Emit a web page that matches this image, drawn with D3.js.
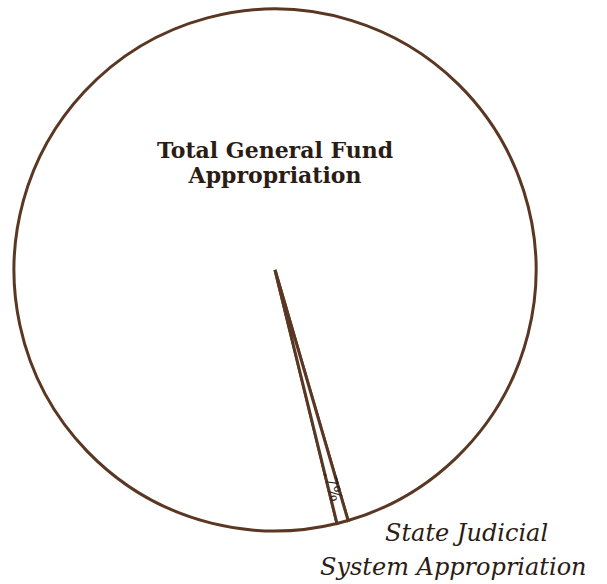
<!DOCTYPE html>
<html>
<head>
<meta charset="utf-8">
<script src="https://cdn.jsdelivr.net/npm/d3@7"></script>
<style>
  html, body { margin: 0; padding: 0; background: #ffffff; }
  svg { display: block; }
</style>
</head>
<body>
<svg id="chart" width="607" height="584"></svg>
<script>
// Share of the general fund, in percent
const categories = ["Total General Fund Appropriation", "State Judicial System Appropriation"];
const shares = [99.3, 0.7];
const shareLabels = ["", ".7%"];

// Text blocks
const titleLines = ["Total General Fund", "Appropriation"];
const calloutLines = ["State Judicial", "System Appropriation"];

const width = 607, height = 584;
const cx = 275, cy = 270, radius = 261;
const ink = "#5a3722";
const textInk = "#2b1c14";

const svg = d3.select("#chart");
const g = svg.append("g").attr("transform", `translate(${cx},${cy})`);

// Orient the pie so the small slice points down and slightly to the right
const sliceMid = 165 * Math.PI / 180;
const total = d3.sum(shares);
const start = sliceMid - 2 * Math.PI * (total - shares[1] / 2) / total;

const pie = d3.pie()
  .sort(null)
  .value(d => d)
  .startAngle(start)
  .endAngle(start + 2 * Math.PI);

const arcs = pie(shares);
const arc = d3.arc().innerRadius(0).outerRadius(radius);

g.selectAll("path.slice")
  .data(arcs)
  .join("path")
  .attr("class", "slice")
  .attr("d", arc)
  .attr("fill", "#ffffff")
  .attr("stroke", ink)
  .attr("stroke-width", 3)
  .attr("stroke-linejoin", "miter");

// Percentage label running along the small slice
const labelArc = d3.arc().innerRadius(224).outerRadius(224);
arcs.forEach((a, i) => {
  if (!shareLabels[i]) return;
  const [lx, ly] = labelArc.centroid(a);
  const mid = (a.startAngle + a.endAngle) / 2 * 180 / Math.PI;
  g.append("text")
    .attr("transform", `translate(${lx},${ly}) rotate(${mid - 90})`)
    .attr("text-anchor", "middle")
    .attr("dominant-baseline", "central")
    .attr("font-family", "'DejaVu Serif', 'Liberation Serif', serif")
    .attr("font-size", 16)
    .attr("fill", textInk)
    .text(shareLabels[i]);
});

// Title inside the large slice
svg.append("g")
  .selectAll("text")
  .data(titleLines)
  .join("text")
  .attr("x", cx)
  .attr("y", (d, i) => 158 + i * 25)
  .attr("text-anchor", "middle")
  .attr("font-family", "'DejaVu Serif', 'Liberation Serif', serif")
  .attr("font-weight", "bold")
  .attr("font-size", 22)
  .attr("fill", textInk)
  .text(d => d);

// Callout naming the small slice
const calloutX = [385, 320];
svg.append("g")
  .selectAll("text")
  .data(calloutLines)
  .join("text")
  .attr("x", (d, i) => calloutX[i])
  .attr("y", (d, i) => 541 + i * 34)
  .attr("font-family", "'DejaVu Serif', 'Liberation Serif', serif")
  .attr("font-style", "italic")
  .attr("font-size", 24)
  .attr("fill", textInk)
  .text(d => d);
</script>
</body>
</html>
